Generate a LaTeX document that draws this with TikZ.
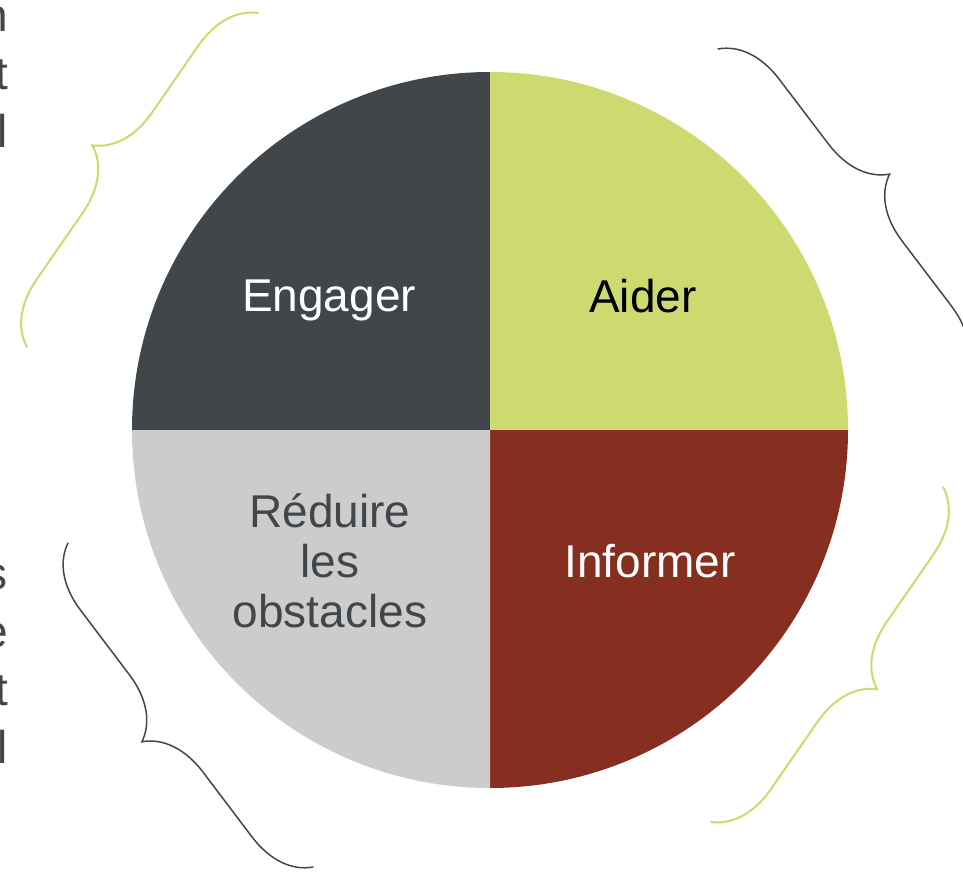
\documentclass[tikz,border=0pt]{standalone}
\usepackage{fontspec}
\setmainfont{Liberation Sans}
\usetikzlibrary{decorations.pathreplacing}

\definecolor{slate}{HTML}{41464A}
\definecolor{lime}{HTML}{CDDA70}
\definecolor{rust}{HTML}{862E20}
\definecolor{pale}{HTML}{CCCCCC}

\begin{document}
\begin{tikzpicture}[
  x=1pt, y=-1pt,
  every node/.style={
    inner sep=0pt,
    font=\fontsize{46}{50}\selectfont
  },
  frag/.style={align=right, text=slate, anchor=base east, font=\fontsize{46}{58}\selectfont},
  curly/.style={decorate, decoration={brace, amplitude=61pt}, line cap=round}
]
\clip (0,0) rectangle (963,873);
\useasboundingbox (0,0) rectangle (963,873);

% quarters of the wheel
\coordinate (c) at (490,430);
\fill[slate] (c) -- ++(-358,0) arc[start angle=180, end angle=270, radius=358] -- cycle;
\fill[lime]  (c) -- ++(0,-358) arc[start angle=270, end angle=360, radius=358] -- cycle;
\fill[rust]  (c) -- ++(358,0)  arc[start angle=0, end angle=90, radius=358] -- cycle;
\fill[pale]  (c) -- ++(0,358)  arc[start angle=90, end angle=180, radius=358] -- cycle;

\node[text=white, anchor=base] (engager) at (329,311) {Engager};
\node[text=black, anchor=base] (aider) at (643,312) {Aider};
\node[text=white, anchor=base] (informer) at (650,577) {Informer};
\node[text=slate, align=center, anchor=base] (reduire) at (330,627) {Réduire\\les\\obstacles};

% cut text on the left edge (base = last line)
\node[frag] (fragtop) at (8,147) {n\\t\\l};
\node[frag] (fragbottom) at (8,763) {s\\e\\t\\l};

% braces
\coordinate (tlA) at (27,347);  \coordinate (tlB) at (258,13);
\coordinate (trA) at (718,49);  \coordinate (trB) at (964,373);
\coordinate (blA) at (313,867); \coordinate (blB) at (68,543);
\coordinate (brA) at (943,487); \coordinate (brB) at (711,822);

\draw[curly, lime, line width=2pt] (tlA) -- (tlB);
\draw[curly, slate, line width=1.5pt] (trA) -- (trB);
\draw[curly, slate, line width=1.5pt] (blA) -- (blB);
\draw[curly, lime, line width=2pt] (brA) -- (brB);
\end{tikzpicture}
\end{document}
